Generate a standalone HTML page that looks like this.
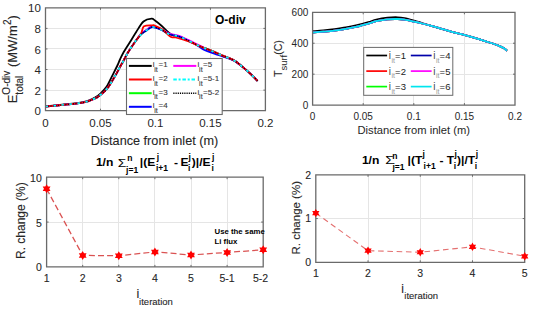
<!DOCTYPE html>
<html><head><meta charset="utf-8"><style>
html,body{margin:0;padding:0;background:#fff;width:533px;height:309px;overflow:hidden}
svg{display:block}
text{font-family:"Liberation Sans", sans-serif;white-space:pre}
text:not([font-weight="bold"]):not(.ns){stroke:#262626;stroke-width:0.1px}
</style></head><body>
<svg width="533" height="309" viewBox="0 0 533 309">
<rect x="0" y="0" width="533" height="309" fill="#fff"/>
<line x1="100.5" y1="7.8" x2="100.5" y2="110.7" stroke="#e5e5e5" stroke-width="1"/>
<line x1="155.5" y1="7.8" x2="155.5" y2="110.7" stroke="#e5e5e5" stroke-width="1"/>
<line x1="210.5" y1="7.8" x2="210.5" y2="110.7" stroke="#e5e5e5" stroke-width="1"/>
<line x1="45.5" y1="90.5" x2="265.4" y2="90.5" stroke="#e5e5e5" stroke-width="1"/>
<line x1="45.5" y1="69.5" x2="265.4" y2="69.5" stroke="#e5e5e5" stroke-width="1"/>
<line x1="45.5" y1="48.5" x2="265.4" y2="48.5" stroke="#e5e5e5" stroke-width="1"/>
<line x1="45.5" y1="28.5" x2="265.4" y2="28.5" stroke="#e5e5e5" stroke-width="1"/>
<path d="M45.50,106.40 C51.05,105.83 71.75,103.93 78.80,103.00 C85.85,102.07 85.10,101.70 87.80,100.80 C90.50,99.90 92.85,98.85 95.00,97.60 C97.15,96.35 98.82,95.05 100.70,93.30 C102.58,91.55 104.80,89.17 106.30,87.10 C107.80,85.03 108.57,83.07 109.70,80.90 C110.83,78.73 111.78,76.75 113.10,74.10 C114.42,71.45 116.45,67.43 117.60,65.00 C118.75,62.57 119.07,61.50 120.00,59.50 C120.93,57.50 121.58,55.83 123.20,53.00 C124.82,50.17 127.53,46.00 129.70,42.50 C131.87,39.00 133.90,35.50 136.20,32.00 C138.50,28.50 140.93,23.73 143.50,21.50 C146.07,19.27 149.68,18.75 151.60,18.60 C153.52,18.45 153.35,19.40 155.00,20.60 C156.65,21.80 159.13,23.75 161.50,25.80 C163.87,27.85 167.28,31.33 169.20,32.90 C171.12,34.47 171.48,34.65 173.00,35.20 C174.52,35.75 175.70,35.28 178.30,36.20 C180.90,37.12 185.37,39.20 188.60,40.70 C191.83,42.20 194.97,43.95 197.70,45.20 C200.43,46.45 202.57,47.20 205.00,48.20 C207.43,49.20 209.38,49.97 212.30,51.20 C215.22,52.43 218.87,54.07 222.50,55.60 C226.13,57.13 230.47,58.27 234.10,60.40 C237.73,62.53 241.38,65.98 244.30,68.40 C247.22,70.82 249.38,72.82 251.60,74.90 C253.82,76.98 256.60,79.90 257.60,80.90" fill="none" stroke="#000000" stroke-width="1.8" stroke-linejoin="round"  />
<path d="M45.50,106.50 C47.30,106.33 52.63,105.85 56.30,105.50 C59.97,105.15 63.75,104.78 67.50,104.40 C71.25,104.02 75.42,103.72 78.80,103.20 C82.18,102.68 85.18,102.07 87.80,101.30 C90.42,100.53 92.92,99.28 94.50,98.60 C96.08,97.92 95.70,98.33 97.30,97.20 C98.90,96.07 102.22,93.57 104.10,91.80 C105.98,90.03 107.28,88.37 108.60,86.60 C109.92,84.83 110.68,83.37 112.00,81.20 C113.32,79.03 115.00,76.30 116.50,73.60 C118.00,70.90 120.02,66.80 121.00,65.00 C121.98,63.20 121.22,64.93 122.40,62.80 C123.58,60.67 126.07,55.58 128.10,52.20 C130.13,48.82 132.45,45.47 134.60,42.50 C136.75,39.53 138.98,36.45 141.00,34.40 C143.02,32.35 144.80,31.45 146.70,30.20 C148.60,28.95 149.93,26.98 152.40,26.90 C154.87,26.82 158.70,28.48 161.50,29.70 C164.30,30.92 166.40,33.12 169.20,34.20 C172.00,35.28 175.07,35.12 178.30,36.20 C181.53,37.28 185.37,39.20 188.60,40.70 C191.83,42.20 194.97,43.95 197.70,45.20 C200.43,46.45 202.57,47.20 205.00,48.20 C207.43,49.20 209.38,49.97 212.30,51.20 C215.22,52.43 218.87,54.07 222.50,55.60 C226.13,57.13 230.47,58.27 234.10,60.40 C237.73,62.53 241.38,65.98 244.30,68.40 C247.22,70.82 249.38,72.82 251.60,74.90 C253.82,76.98 256.60,79.90 257.60,80.90" fill="none" stroke="#00ff00" stroke-width="1.8" stroke-linejoin="round"  />
<path d="M45.50,106.50 C47.30,106.33 52.63,105.85 56.30,105.50 C59.97,105.15 63.75,104.78 67.50,104.40 C71.25,104.02 75.42,103.72 78.80,103.20 C82.18,102.68 85.18,102.07 87.80,101.30 C90.42,100.53 92.92,99.28 94.50,98.60 C96.08,97.92 95.70,98.33 97.30,97.20 C98.90,96.07 102.22,93.57 104.10,91.80 C105.98,90.03 107.28,88.37 108.60,86.60 C109.92,84.83 110.68,83.37 112.00,81.20 C113.32,79.03 115.00,76.30 116.50,73.60 C118.00,70.90 120.02,66.80 121.00,65.00 C121.98,63.20 121.22,64.93 122.40,62.80 C123.58,60.67 126.07,55.58 128.10,52.20 C130.13,48.82 132.45,45.57 134.60,42.50 C136.75,39.43 138.98,35.95 141.00,33.80 C143.02,31.65 144.80,30.85 146.70,29.60 C148.60,28.35 149.93,26.38 152.40,26.30 C154.87,26.22 158.70,27.88 161.50,29.10 C164.30,30.32 166.40,32.52 169.20,33.60 C172.00,34.68 175.07,34.52 178.30,35.60 C181.53,36.68 185.37,38.60 188.60,40.10 C191.83,41.60 194.97,43.25 197.70,44.60 C200.43,45.95 202.57,47.10 205.00,48.20 C207.43,49.30 209.38,49.97 212.30,51.20 C215.22,52.43 218.87,54.07 222.50,55.60 C226.13,57.13 230.47,58.27 234.10,60.40 C237.73,62.53 241.38,65.98 244.30,68.40 C247.22,70.82 249.38,72.82 251.60,74.90 C253.82,76.98 256.60,79.90 257.60,80.90" fill="none" stroke="#ff00ff" stroke-width="1.8" stroke-linejoin="round"  />
<path d="M45.50,106.50 C47.30,106.33 52.63,105.85 56.30,105.50 C59.97,105.15 63.75,104.78 67.50,104.40 C71.25,104.02 75.42,103.72 78.80,103.20 C82.18,102.68 85.18,102.07 87.80,101.30 C90.42,100.53 92.92,99.28 94.50,98.60 C96.08,97.92 95.70,98.33 97.30,97.20 C98.90,96.07 102.22,93.57 104.10,91.80 C105.98,90.03 107.28,88.37 108.60,86.60 C109.92,84.83 110.68,83.37 112.00,81.20 C113.32,79.03 115.00,76.30 116.50,73.60 C118.00,70.90 120.02,66.80 121.00,65.00 C121.98,63.20 121.22,64.93 122.40,62.80 C123.58,60.67 126.07,55.58 128.10,52.20 C130.13,48.82 132.45,45.47 134.60,42.50 C136.75,39.53 138.98,36.42 141.00,34.40 C143.02,32.38 144.80,31.62 146.70,30.40 C148.60,29.18 149.93,27.18 152.40,27.10 C154.87,27.02 158.70,28.68 161.50,29.90 C164.30,31.12 166.40,33.32 169.20,34.40 C172.00,35.48 175.07,35.30 178.30,36.40 C181.53,37.50 185.37,39.47 188.60,41.00 C191.83,42.53 195.32,44.23 197.70,45.60 C200.08,46.97 200.97,48.15 202.90,49.20 C204.83,50.25 207.28,51.10 209.30,51.90 C211.32,52.70 212.80,53.25 215.00,54.00 C217.20,54.75 219.32,55.30 222.50,56.40 C225.68,57.50 230.47,58.60 234.10,60.60 C237.73,62.60 241.38,66.02 244.30,68.40 C247.22,70.78 249.38,72.82 251.60,74.90 C253.82,76.98 256.60,79.90 257.60,80.90" fill="none" stroke="#0000ff" stroke-width="1.8" stroke-linejoin="round"  />
<path d="M45.50,106.50 C47.30,106.33 52.63,105.85 56.30,105.50 C59.97,105.15 63.75,104.78 67.50,104.40 C71.25,104.02 75.42,103.72 78.80,103.20 C82.18,102.68 85.18,102.07 87.80,101.30 C90.42,100.53 92.92,99.28 94.50,98.60 C96.08,97.92 95.70,98.33 97.30,97.20 C98.90,96.07 102.22,93.57 104.10,91.80 C105.98,90.03 107.28,88.37 108.60,86.60 C109.92,84.83 110.68,83.37 112.00,81.20 C113.32,79.03 115.00,76.30 116.50,73.60 C118.00,70.90 120.02,66.80 121.00,65.00 C121.98,63.20 121.22,64.93 122.40,62.80 C123.58,60.67 126.07,55.58 128.10,52.20 C130.13,48.82 132.45,45.60 134.60,42.50 C136.75,39.40 139.43,36.30 141.00,33.60 C142.57,30.90 142.10,27.68 144.00,26.30 C145.90,24.92 150.57,25.38 152.40,25.30 C154.23,25.22 153.27,25.07 155.00,25.80 C156.73,26.53 160.22,27.87 162.80,29.70 C165.38,31.53 168.35,35.50 170.50,36.80 C172.65,38.10 172.68,36.75 175.70,37.50 C178.72,38.25 184.93,39.98 188.60,41.30 C192.27,42.62 194.97,44.25 197.70,45.40 C200.43,46.55 202.57,47.23 205.00,48.20 C207.43,49.17 209.38,49.97 212.30,51.20 C215.22,52.43 218.87,54.07 222.50,55.60 C226.13,57.13 230.47,58.27 234.10,60.40 C237.73,62.53 241.38,65.98 244.30,68.40 C247.22,70.82 249.38,72.82 251.60,74.90 C253.82,76.98 256.60,79.90 257.60,80.90" fill="none" stroke="#ff0000" stroke-width="1.8" stroke-linejoin="round"  />
<path d="M45.50,106.50 C47.30,106.33 52.63,105.85 56.30,105.50 C59.97,105.15 63.75,104.78 67.50,104.40 C71.25,104.02 75.42,103.72 78.80,103.20 C82.18,102.68 85.18,102.07 87.80,101.30 C90.42,100.53 92.92,99.28 94.50,98.60 C96.08,97.92 95.70,98.33 97.30,97.20 C98.90,96.07 102.22,93.57 104.10,91.80 C105.98,90.03 107.28,88.37 108.60,86.60 C109.92,84.83 110.68,83.37 112.00,81.20 C113.32,79.03 115.00,76.30 116.50,73.60 C118.00,70.90 120.02,66.80 121.00,65.00 C121.98,63.20 121.22,64.93 122.40,62.80 C123.58,60.67 126.07,55.58 128.10,52.20 C130.13,48.82 132.45,45.47 134.60,42.50 C136.75,39.53 138.98,36.45 141.00,34.40 C143.02,32.35 144.80,31.45 146.70,30.20 C148.60,28.95 149.93,26.98 152.40,26.90 C154.87,26.82 158.70,28.48 161.50,29.70 C164.30,30.92 166.40,33.12 169.20,34.20 C172.00,35.28 175.07,35.12 178.30,36.20 C181.53,37.28 185.37,39.20 188.60,40.70 C191.83,42.20 194.97,43.95 197.70,45.20 C200.43,46.45 202.57,47.20 205.00,48.20 C207.43,49.20 209.38,49.97 212.30,51.20 C215.22,52.43 218.87,54.07 222.50,55.60 C226.13,57.13 230.47,58.27 234.10,60.40 C237.73,62.53 241.38,65.98 244.30,68.40 C247.22,70.82 249.38,72.82 251.60,74.90 C253.82,76.98 256.60,79.90 257.60,80.90" fill="none" stroke="#000000" stroke-width="1.2" stroke-linejoin="round" stroke-dasharray="1 1.5" />
<path d="M45.50,106.50 C47.30,106.33 52.63,105.85 56.30,105.50 C59.97,105.15 63.75,104.78 67.50,104.40 C71.25,104.02 75.42,103.72 78.80,103.20 C82.18,102.68 85.18,102.07 87.80,101.30 C90.42,100.53 92.92,99.28 94.50,98.60 C96.08,97.92 95.70,98.33 97.30,97.20 C98.90,96.07 102.22,93.57 104.10,91.80 C105.98,90.03 107.28,88.37 108.60,86.60 C109.92,84.83 110.68,83.37 112.00,81.20 C113.32,79.03 115.00,76.30 116.50,73.60 C118.00,70.90 120.02,66.80 121.00,65.00 C121.98,63.20 121.22,64.93 122.40,62.80 C123.58,60.67 126.07,55.58 128.10,52.20 C130.13,48.82 132.45,45.47 134.60,42.50 C136.75,39.53 138.98,36.45 141.00,34.40 C143.02,32.35 144.80,31.45 146.70,30.20 C148.60,28.95 149.93,26.98 152.40,26.90 C154.87,26.82 158.70,28.48 161.50,29.70 C164.30,30.92 166.40,33.12 169.20,34.20 C172.00,35.28 175.07,35.12 178.30,36.20 C181.53,37.28 185.37,39.20 188.60,40.70 C191.83,42.20 194.97,43.95 197.70,45.20 C200.43,46.45 202.57,47.20 205.00,48.20 C207.43,49.20 209.38,49.97 212.30,51.20 C215.22,52.43 218.87,54.07 222.50,55.60 C226.13,57.13 230.47,58.27 234.10,60.40 C237.73,62.53 241.38,65.98 244.30,68.40 C247.22,70.82 249.38,72.82 251.60,74.90 C253.82,76.98 256.60,79.90 257.60,80.90" fill="none" stroke="#00ffff" stroke-width="1.7" stroke-linejoin="round" stroke-dasharray="2.5 5.5" />
<path d="M45.5,7.8 H265.4 V110.7 H45.5 Z" fill="none" stroke="#6a6a6a" stroke-width="1.3"/>
<line x1="100.475" y1="110.7" x2="100.475" y2="108.7" stroke="#6a6a6a" stroke-width="1"/>
<line x1="100.475" y1="7.8" x2="100.475" y2="9.8" stroke="#6a6a6a" stroke-width="1"/>
<line x1="155.45" y1="110.7" x2="155.45" y2="108.7" stroke="#6a6a6a" stroke-width="1"/>
<line x1="155.45" y1="7.8" x2="155.45" y2="9.8" stroke="#6a6a6a" stroke-width="1"/>
<line x1="210.42499999999998" y1="110.7" x2="210.42499999999998" y2="108.7" stroke="#6a6a6a" stroke-width="1"/>
<line x1="210.42499999999998" y1="7.8" x2="210.42499999999998" y2="9.8" stroke="#6a6a6a" stroke-width="1"/>
<line x1="45.5" y1="90.12" x2="47.5" y2="90.12" stroke="#6a6a6a" stroke-width="1"/>
<line x1="265.4" y1="90.12" x2="263.4" y2="90.12" stroke="#6a6a6a" stroke-width="1"/>
<line x1="45.5" y1="69.53999999999999" x2="47.5" y2="69.53999999999999" stroke="#6a6a6a" stroke-width="1"/>
<line x1="265.4" y1="69.53999999999999" x2="263.4" y2="69.53999999999999" stroke="#6a6a6a" stroke-width="1"/>
<line x1="45.5" y1="48.959999999999994" x2="47.5" y2="48.959999999999994" stroke="#6a6a6a" stroke-width="1"/>
<line x1="265.4" y1="48.959999999999994" x2="263.4" y2="48.959999999999994" stroke="#6a6a6a" stroke-width="1"/>
<line x1="45.5" y1="28.379999999999995" x2="47.5" y2="28.379999999999995" stroke="#6a6a6a" stroke-width="1"/>
<line x1="265.4" y1="28.379999999999995" x2="263.4" y2="28.379999999999995" stroke="#6a6a6a" stroke-width="1"/>
<text class="ns" x="40.8" y="115.3" font-size="11.5" text-anchor="end" font-weight="normal" fill="#262626" >0</text>
<text class="ns" x="40.8" y="94.72" font-size="11.5" text-anchor="end" font-weight="normal" fill="#262626" >2</text>
<text class="ns" x="40.8" y="74.13999999999999" font-size="11.5" text-anchor="end" font-weight="normal" fill="#262626" >4</text>
<text class="ns" x="40.8" y="53.559999999999995" font-size="11.5" text-anchor="end" font-weight="normal" fill="#262626" >6</text>
<text class="ns" x="40.8" y="32.98" font-size="11.5" text-anchor="end" font-weight="normal" fill="#262626" >8</text>
<text class="ns" x="40.8" y="12.399999999999997" font-size="11.5" text-anchor="end" font-weight="normal" fill="#262626" >10</text>
<text class="ns" x="45.5" y="127.4" font-size="11.5" text-anchor="middle" font-weight="normal" fill="#262626" >0</text>
<text class="ns" x="100.475" y="127.4" font-size="11.5" text-anchor="middle" font-weight="normal" fill="#262626" >0.05</text>
<text class="ns" x="155.45" y="127.4" font-size="11.5" text-anchor="middle" font-weight="normal" fill="#262626" >0.1</text>
<text class="ns" x="210.42499999999998" y="127.4" font-size="11.5" text-anchor="middle" font-weight="normal" fill="#262626" >0.15</text>
<text class="ns" x="265.4" y="127.4" font-size="11.5" text-anchor="middle" font-weight="normal" fill="#262626" >0.2</text>
<text x="154.5" y="144.5" font-size="12.7" text-anchor="middle" font-weight="normal" fill="#262626" textLength="127.5" lengthAdjust="spacingAndGlyphs">Distance from inlet (m)</text>
<text x="215" y="23.6" font-size="12" text-anchor="start" font-weight="bold" fill="#000" >O-div</text>
<g transform="translate(17.1,103.3) rotate(-90)">
<text x="0" y="0" font-size="13" fill="#262626">E</text>
<text x="8.67" y="-7.4" font-size="10" fill="#262626">O-div</text>
<text x="8.67" y="6.2" font-size="10" fill="#262626">total</text>
<text x="32.6" y="0" font-size="13" fill="#262626"> (MW/m</text>
<text x="78.2" y="-6.5" font-size="10" fill="#262626">2</text>
<text x="83.8" y="0" font-size="13" fill="#262626">)</text>
</g>
<rect x="126.5" y="58.5" width="95.69999999999999" height="56.0" fill="#fff" stroke="#6a6a6a" stroke-width="1.1"/>
<polyline points="128.9,65.9 151.7,65.9" fill="none" stroke="#000000" stroke-width="2" stroke-linejoin="round"  />
<text x="152.7" y="67.30000000000001" font-size="8" text-anchor="start" font-weight="normal" fill="#3a3a3a" >i</text>
<text x="154.3" y="72.10000000000001" font-size="7" text-anchor="start" font-weight="normal" fill="#3a3a3a" >it</text>
<text x="158.5" y="67.30000000000001" font-size="8" text-anchor="start" font-weight="normal" fill="#3a3a3a" >=1</text>
<polyline points="128.9,79.5 151.7,79.5" fill="none" stroke="#ff0000" stroke-width="2" stroke-linejoin="round"  />
<text x="152.7" y="80.9" font-size="8" text-anchor="start" font-weight="normal" fill="#3a3a3a" >i</text>
<text x="154.3" y="85.7" font-size="7" text-anchor="start" font-weight="normal" fill="#3a3a3a" >it</text>
<text x="158.5" y="80.9" font-size="8" text-anchor="start" font-weight="normal" fill="#3a3a3a" >=2</text>
<polyline points="128.9,93.2 151.7,93.2" fill="none" stroke="#00ff00" stroke-width="2" stroke-linejoin="round"  />
<text x="152.7" y="94.60000000000001" font-size="8" text-anchor="start" font-weight="normal" fill="#3a3a3a" >i</text>
<text x="154.3" y="99.4" font-size="7" text-anchor="start" font-weight="normal" fill="#3a3a3a" >it</text>
<text x="158.5" y="94.60000000000001" font-size="8" text-anchor="start" font-weight="normal" fill="#3a3a3a" >=3</text>
<polyline points="128.9,106.8 151.7,106.8" fill="none" stroke="#0000ff" stroke-width="2" stroke-linejoin="round"  />
<text x="152.7" y="108.2" font-size="8" text-anchor="start" font-weight="normal" fill="#3a3a3a" >i</text>
<text x="154.3" y="113.0" font-size="7" text-anchor="start" font-weight="normal" fill="#3a3a3a" >it</text>
<text x="158.5" y="108.2" font-size="8" text-anchor="start" font-weight="normal" fill="#3a3a3a" >=4</text>
<polyline points="173.3,65.9 196.3,65.9" fill="none" stroke="#ff00ff" stroke-width="2" stroke-linejoin="round"  />
<text x="197.5" y="67.30000000000001" font-size="8" text-anchor="start" font-weight="normal" fill="#3a3a3a" >i</text>
<text x="199.1" y="72.10000000000001" font-size="7" text-anchor="start" font-weight="normal" fill="#3a3a3a" >it</text>
<text x="203.0" y="67.30000000000001" font-size="8" text-anchor="start" font-weight="normal" fill="#3a3a3a" >=5</text>
<polyline points="173.3,79.5 196.3,79.5" fill="none" stroke="#00ffff" stroke-width="2" stroke-linejoin="round" stroke-dasharray="3.5 1.8 2 1.8" />
<text x="197.5" y="80.9" font-size="8" text-anchor="start" font-weight="normal" fill="#3a3a3a" >i</text>
<text x="199.1" y="85.7" font-size="7" text-anchor="start" font-weight="normal" fill="#3a3a3a" >it</text>
<text x="203.0" y="80.9" font-size="8" text-anchor="start" font-weight="normal" fill="#3a3a3a" >=5-1</text>
<polyline points="173.3,93.2 196.3,93.2" fill="none" stroke="#000000" stroke-width="1.6" stroke-linejoin="round" stroke-dasharray="1.2 1" />
<text x="197.5" y="94.60000000000001" font-size="8" text-anchor="start" font-weight="normal" fill="#3a3a3a" >i</text>
<text x="199.1" y="99.4" font-size="7" text-anchor="start" font-weight="normal" fill="#3a3a3a" >it</text>
<text x="203.0" y="94.60000000000001" font-size="8" text-anchor="start" font-weight="normal" fill="#3a3a3a" >=5-2</text>
<line x1="363.5" y1="12.3" x2="363.5" y2="105.1" stroke="#e5e5e5" stroke-width="1"/>
<line x1="413.5" y1="12.3" x2="413.5" y2="105.1" stroke="#e5e5e5" stroke-width="1"/>
<line x1="464.5" y1="12.3" x2="464.5" y2="105.1" stroke="#e5e5e5" stroke-width="1"/>
<line x1="312.6" y1="74.5" x2="515.0" y2="74.5" stroke="#e5e5e5" stroke-width="1"/>
<line x1="312.6" y1="43.5" x2="515.0" y2="43.5" stroke="#e5e5e5" stroke-width="1"/>
<path d="M312.90,31.20 C314.63,31.05 319.70,30.65 323.30,30.30 C326.90,29.95 330.75,29.57 334.50,29.10 C338.25,28.63 342.05,28.15 345.80,27.50 C349.55,26.85 353.25,26.08 357.00,25.20 C360.75,24.32 365.08,23.13 368.30,22.20 C371.52,21.27 373.10,20.35 376.30,19.60 C379.50,18.85 383.93,18.08 387.50,17.70 C391.07,17.32 394.88,17.23 397.70,17.30 C400.52,17.37 401.68,17.55 404.40,18.10 C407.12,18.65 411.07,19.78 414.00,20.60 C416.93,21.42 419.12,22.13 422.00,23.00 C424.88,23.87 427.88,24.78 431.30,25.80 C434.72,26.82 438.75,28.02 442.50,29.10 C446.25,30.18 450.05,31.28 453.80,32.30 C457.55,33.32 460.68,34.02 465.00,35.20 C469.32,36.38 475.63,38.18 479.70,39.40 C483.77,40.62 486.17,41.42 489.40,42.50 C492.63,43.58 496.67,44.93 499.10,45.90 C501.53,46.87 502.70,47.50 504.00,48.30 C505.30,49.10 506.42,50.30 506.90,50.70" fill="none" stroke="#000000" stroke-width="1.8" stroke-linejoin="round"  />
<path d="M312.90,32.50 C314.63,32.37 319.70,32.02 323.30,31.70 C326.90,31.38 330.75,31.07 334.50,30.60 C338.25,30.13 342.05,29.55 345.80,28.90 C349.55,28.25 353.25,27.58 357.00,26.70 C360.75,25.82 365.08,24.52 368.30,23.60 C371.52,22.68 373.10,21.92 376.30,21.20 C379.50,20.48 383.93,19.67 387.50,19.30 C391.07,18.93 394.88,18.95 397.70,19.00 C400.52,19.05 401.68,19.17 404.40,19.60 C407.12,20.03 411.07,20.95 414.00,21.60 C416.93,22.25 419.12,22.78 422.00,23.50 C424.88,24.22 427.88,24.97 431.30,25.90 C434.72,26.83 438.75,28.03 442.50,29.10 C446.25,30.17 450.05,31.28 453.80,32.30 C457.55,33.32 460.68,34.02 465.00,35.20 C469.32,36.38 475.63,38.18 479.70,39.40 C483.77,40.62 486.17,41.42 489.40,42.50 C492.63,43.58 496.67,44.93 499.10,45.90 C501.53,46.87 502.70,47.50 504.00,48.30 C505.30,49.10 506.42,50.30 506.90,50.70" fill="none" stroke="#ff0000" stroke-width="1.8" stroke-linejoin="round"  />
<path d="M312.90,32.50 C314.63,32.37 319.70,32.02 323.30,31.70 C326.90,31.38 330.75,31.07 334.50,30.60 C338.25,30.13 342.05,29.55 345.80,28.90 C349.55,28.25 353.25,27.58 357.00,26.70 C360.75,25.82 365.08,24.52 368.30,23.60 C371.52,22.68 373.10,21.92 376.30,21.20 C379.50,20.48 383.93,19.67 387.50,19.30 C391.07,18.93 394.88,18.95 397.70,19.00 C400.52,19.05 401.68,19.17 404.40,19.60 C407.12,20.03 411.07,20.95 414.00,21.60 C416.93,22.25 419.12,22.78 422.00,23.50 C424.88,24.22 427.88,24.97 431.30,25.90 C434.72,26.83 438.75,28.03 442.50,29.10 C446.25,30.17 450.05,31.28 453.80,32.30 C457.55,33.32 460.68,34.02 465.00,35.20 C469.32,36.38 475.63,38.18 479.70,39.40 C483.77,40.62 486.17,41.42 489.40,42.50 C492.63,43.58 496.67,44.93 499.10,45.90 C501.53,46.87 502.70,47.50 504.00,48.30 C505.30,49.10 506.42,50.30 506.90,50.70" fill="none" stroke="#00ff00" stroke-width="1.8" stroke-linejoin="round"  />
<path d="M312.90,32.50 C314.63,32.37 319.70,32.02 323.30,31.70 C326.90,31.38 330.75,31.07 334.50,30.60 C338.25,30.13 342.05,29.55 345.80,28.90 C349.55,28.25 353.25,27.58 357.00,26.70 C360.75,25.82 365.08,24.52 368.30,23.60 C371.52,22.68 373.10,21.92 376.30,21.20 C379.50,20.48 383.93,19.67 387.50,19.30 C391.07,18.93 394.88,18.95 397.70,19.00 C400.52,19.05 401.68,19.17 404.40,19.60 C407.12,20.03 411.07,20.95 414.00,21.60 C416.93,22.25 419.12,22.78 422.00,23.50 C424.88,24.22 427.88,24.97 431.30,25.90 C434.72,26.83 438.75,28.03 442.50,29.10 C446.25,30.17 450.05,31.28 453.80,32.30 C457.55,33.32 460.68,34.02 465.00,35.20 C469.32,36.38 475.63,38.18 479.70,39.40 C483.77,40.62 486.17,41.42 489.40,42.50 C492.63,43.58 496.67,44.93 499.10,45.90 C501.53,46.87 502.70,47.50 504.00,48.30 C505.30,49.10 506.42,50.30 506.90,50.70" fill="none" stroke="#0000aa" stroke-width="1.8" stroke-linejoin="round"  />
<path d="M312.90,32.50 C314.63,32.37 319.70,32.02 323.30,31.70 C326.90,31.38 330.75,31.07 334.50,30.60 C338.25,30.13 342.05,29.55 345.80,28.90 C349.55,28.25 353.25,27.58 357.00,26.70 C360.75,25.82 365.08,24.52 368.30,23.60 C371.52,22.68 373.10,21.92 376.30,21.20 C379.50,20.48 383.93,19.67 387.50,19.30 C391.07,18.93 394.88,18.95 397.70,19.00 C400.52,19.05 401.68,19.17 404.40,19.60 C407.12,20.03 411.07,20.95 414.00,21.60 C416.93,22.25 419.12,22.78 422.00,23.50 C424.88,24.22 427.88,24.97 431.30,25.90 C434.72,26.83 438.75,28.03 442.50,29.10 C446.25,30.17 450.05,31.28 453.80,32.30 C457.55,33.32 460.68,34.02 465.00,35.20 C469.32,36.38 475.63,38.18 479.70,39.40 C483.77,40.62 486.17,41.42 489.40,42.50 C492.63,43.58 496.67,44.93 499.10,45.90 C501.53,46.87 502.70,47.50 504.00,48.30 C505.30,49.10 506.42,50.30 506.90,50.70" fill="none" stroke="#ff00ff" stroke-width="1.8" stroke-linejoin="round"  />
<path d="M312.90,32.50 C314.63,32.37 319.70,32.02 323.30,31.70 C326.90,31.38 330.75,31.07 334.50,30.60 C338.25,30.13 342.05,29.55 345.80,28.90 C349.55,28.25 353.25,27.58 357.00,26.70 C360.75,25.82 365.08,24.52 368.30,23.60 C371.52,22.68 373.10,21.92 376.30,21.20 C379.50,20.48 383.93,19.67 387.50,19.30 C391.07,18.93 394.88,18.95 397.70,19.00 C400.52,19.05 401.68,19.17 404.40,19.60 C407.12,20.03 411.07,20.95 414.00,21.60 C416.93,22.25 419.12,22.78 422.00,23.50 C424.88,24.22 427.88,24.97 431.30,25.90 C434.72,26.83 438.75,28.03 442.50,29.10 C446.25,30.17 450.05,31.28 453.80,32.30 C457.55,33.32 460.68,34.02 465.00,35.20 C469.32,36.38 475.63,38.18 479.70,39.40 C483.77,40.62 486.17,41.42 489.40,42.50 C492.63,43.58 496.67,44.93 499.10,45.90 C501.53,46.87 502.70,47.50 504.00,48.30 C505.30,49.10 506.42,50.30 506.90,50.70" fill="none" stroke="#00e5ee" stroke-width="1.8" stroke-linejoin="round"  />
<path d="M312.6,12.3 H515.0 V105.1 H312.6 Z" fill="none" stroke="#6a6a6a" stroke-width="1.3"/>
<line x1="363.20000000000005" y1="105.1" x2="363.20000000000005" y2="103.1" stroke="#6a6a6a" stroke-width="1"/>
<line x1="363.20000000000005" y1="12.3" x2="363.20000000000005" y2="14.3" stroke="#6a6a6a" stroke-width="1"/>
<line x1="413.8" y1="105.1" x2="413.8" y2="103.1" stroke="#6a6a6a" stroke-width="1"/>
<line x1="413.8" y1="12.3" x2="413.8" y2="14.3" stroke="#6a6a6a" stroke-width="1"/>
<line x1="464.4" y1="105.1" x2="464.4" y2="103.1" stroke="#6a6a6a" stroke-width="1"/>
<line x1="464.4" y1="12.3" x2="464.4" y2="14.3" stroke="#6a6a6a" stroke-width="1"/>
<line x1="312.6" y1="74.16666666666666" x2="314.6" y2="74.16666666666666" stroke="#6a6a6a" stroke-width="1"/>
<line x1="515.0" y1="74.16666666666666" x2="513.0" y2="74.16666666666666" stroke="#6a6a6a" stroke-width="1"/>
<line x1="312.6" y1="43.23333333333333" x2="314.6" y2="43.23333333333333" stroke="#6a6a6a" stroke-width="1"/>
<line x1="515.0" y1="43.23333333333333" x2="513.0" y2="43.23333333333333" stroke="#6a6a6a" stroke-width="1"/>
<text class="ns" x="308.3" y="108.6" font-size="10" text-anchor="end" font-weight="normal" fill="#262626" >0</text>
<text class="ns" x="308.3" y="77.66666666666666" font-size="10" text-anchor="end" font-weight="normal" fill="#262626" >200</text>
<text class="ns" x="308.3" y="46.73333333333333" font-size="10" text-anchor="end" font-weight="normal" fill="#262626" >400</text>
<text class="ns" x="308.3" y="15.799999999999997" font-size="10" text-anchor="end" font-weight="normal" fill="#262626" >600</text>
<text class="ns" x="312.6" y="119.5" font-size="10" text-anchor="middle" font-weight="normal" fill="#262626" >0</text>
<text class="ns" x="363.20000000000005" y="119.5" font-size="10" text-anchor="middle" font-weight="normal" fill="#262626" >0.05</text>
<text class="ns" x="413.8" y="119.5" font-size="10" text-anchor="middle" font-weight="normal" fill="#262626" >0.1</text>
<text class="ns" x="464.4" y="119.5" font-size="10" text-anchor="middle" font-weight="normal" fill="#262626" >0.15</text>
<text class="ns" x="515.0" y="119.5" font-size="10" text-anchor="middle" font-weight="normal" fill="#262626" >0.2</text>
<text class="ns" x="413.8" y="133.5" font-size="10.5" text-anchor="middle" font-weight="normal" fill="#262626" textLength="112.5" lengthAdjust="spacingAndGlyphs">Distance from inlet (m)</text>
<g transform="translate(281.6,77) rotate(-90)">
<text x="0" y="0" font-size="10.5" fill="#262626">T</text>
<text class="ns" x="6.41" y="5" font-size="9.5" fill="#262626">surf</text>
<text x="22.2" y="0" font-size="10.5" fill="#262626">(C)</text>
</g>
<rect x="363.7" y="47.4" width="89.10000000000002" height="47.9" fill="#fff" stroke="#6a6a6a" stroke-width="1"/>
<polyline points="366.3,55.5 387.1,55.5" fill="none" stroke="#000000" stroke-width="1.7" stroke-linejoin="round"  />
<text class="ns" x="388.8" y="59.0" font-size="10" text-anchor="start" font-weight="normal" fill="#444" >i</text>
<text class="ns" x="391.40000000000003" y="62.5" font-size="7" text-anchor="start" font-weight="normal" fill="#999" >it</text>
<text class="ns" x="395.1" y="59.0" font-size="9.5" text-anchor="start" font-weight="normal" fill="#222" >=1</text>
<polyline points="366.3,71.1 387.1,71.1" fill="none" stroke="#ff0000" stroke-width="1.7" stroke-linejoin="round"  />
<text class="ns" x="388.8" y="74.6" font-size="10" text-anchor="start" font-weight="normal" fill="#444" >i</text>
<text class="ns" x="391.40000000000003" y="78.1" font-size="7" text-anchor="start" font-weight="normal" fill="#999" >it</text>
<text class="ns" x="395.1" y="74.6" font-size="9.5" text-anchor="start" font-weight="normal" fill="#222" >=2</text>
<polyline points="366.3,86.6 387.1,86.6" fill="none" stroke="#00ff00" stroke-width="1.7" stroke-linejoin="round"  />
<text class="ns" x="388.8" y="90.1" font-size="10" text-anchor="start" font-weight="normal" fill="#444" >i</text>
<text class="ns" x="391.40000000000003" y="93.6" font-size="7" text-anchor="start" font-weight="normal" fill="#999" >it</text>
<text class="ns" x="395.1" y="90.1" font-size="9.5" text-anchor="start" font-weight="normal" fill="#222" >=3</text>
<polyline points="410.8,55.5 431.6,55.5" fill="none" stroke="#0000aa" stroke-width="1.7" stroke-linejoin="round"  />
<text class="ns" x="433.3" y="59.0" font-size="10" text-anchor="start" font-weight="normal" fill="#444" >i</text>
<text class="ns" x="435.90000000000003" y="62.5" font-size="7" text-anchor="start" font-weight="normal" fill="#999" >it</text>
<text class="ns" x="439.6" y="59.0" font-size="9.5" text-anchor="start" font-weight="normal" fill="#222" >=4</text>
<polyline points="410.8,71.1 431.6,71.1" fill="none" stroke="#ff00ff" stroke-width="1.7" stroke-linejoin="round"  />
<text class="ns" x="433.3" y="74.6" font-size="10" text-anchor="start" font-weight="normal" fill="#444" >i</text>
<text class="ns" x="435.90000000000003" y="78.1" font-size="7" text-anchor="start" font-weight="normal" fill="#999" >it</text>
<text class="ns" x="439.6" y="74.6" font-size="9.5" text-anchor="start" font-weight="normal" fill="#222" >=5</text>
<polyline points="410.8,86.6 431.6,86.6" fill="none" stroke="#00e5ee" stroke-width="1.7" stroke-linejoin="round"  />
<text class="ns" x="433.3" y="90.1" font-size="10" text-anchor="start" font-weight="normal" fill="#444" >i</text>
<text class="ns" x="435.90000000000003" y="93.6" font-size="7" text-anchor="start" font-weight="normal" fill="#999" >it</text>
<text class="ns" x="439.6" y="90.1" font-size="9.5" text-anchor="start" font-weight="normal" fill="#222" >=6</text>
<line x1="82.5" y1="177.2" x2="82.5" y2="266.9" stroke="#e5e5e5" stroke-width="1"/>
<line x1="118.5" y1="177.2" x2="118.5" y2="266.9" stroke="#e5e5e5" stroke-width="1"/>
<line x1="154.5" y1="177.2" x2="154.5" y2="266.9" stroke="#e5e5e5" stroke-width="1"/>
<line x1="191.5" y1="177.2" x2="191.5" y2="266.9" stroke="#e5e5e5" stroke-width="1"/>
<line x1="227.5" y1="177.2" x2="227.5" y2="266.9" stroke="#e5e5e5" stroke-width="1"/>
<line x1="46.6" y1="222.5" x2="263.2" y2="222.5" stroke="#e5e5e5" stroke-width="1"/>
<polyline points="46.6,188.861 82.7,255.4184 118.80000000000001,255.68749999999997 154.9,251.9201 191.0,254.96989999999997 227.1,252.45829999999998 263.2,249.76729999999998" fill="none" stroke="#da5252" stroke-width="1.25" stroke-linejoin="round" stroke-dasharray="6 3.1" />
<path d="M46.6,177.2 H263.2 V266.9 H46.6 Z" fill="none" stroke="#6a6a6a" stroke-width="1.3"/>
<line x1="82.7" y1="266.9" x2="82.7" y2="264.9" stroke="#6a6a6a" stroke-width="1"/>
<line x1="82.7" y1="177.2" x2="82.7" y2="179.2" stroke="#6a6a6a" stroke-width="1"/>
<line x1="118.80000000000001" y1="266.9" x2="118.80000000000001" y2="264.9" stroke="#6a6a6a" stroke-width="1"/>
<line x1="118.80000000000001" y1="177.2" x2="118.80000000000001" y2="179.2" stroke="#6a6a6a" stroke-width="1"/>
<line x1="154.9" y1="266.9" x2="154.9" y2="264.9" stroke="#6a6a6a" stroke-width="1"/>
<line x1="154.9" y1="177.2" x2="154.9" y2="179.2" stroke="#6a6a6a" stroke-width="1"/>
<line x1="191.0" y1="266.9" x2="191.0" y2="264.9" stroke="#6a6a6a" stroke-width="1"/>
<line x1="191.0" y1="177.2" x2="191.0" y2="179.2" stroke="#6a6a6a" stroke-width="1"/>
<line x1="227.1" y1="266.9" x2="227.1" y2="264.9" stroke="#6a6a6a" stroke-width="1"/>
<line x1="227.1" y1="177.2" x2="227.1" y2="179.2" stroke="#6a6a6a" stroke-width="1"/>
<line x1="46.6" y1="222.04999999999998" x2="48.6" y2="222.04999999999998" stroke="#6a6a6a" stroke-width="1"/>
<line x1="263.2" y1="222.04999999999998" x2="261.2" y2="222.04999999999998" stroke="#6a6a6a" stroke-width="1"/>
<polygon points="46.60,184.36 45.30,186.60 42.70,186.61 43.99,188.86 42.70,191.11 45.30,191.12 46.60,193.36 47.91,191.12 50.50,191.11 49.21,188.86 50.50,186.61 47.91,186.60" fill="#ff0000"/>
<polygon points="82.70,250.92 81.40,253.16 78.80,253.17 80.09,255.42 78.80,257.67 81.40,257.68 82.70,259.92 84.00,257.68 86.60,257.67 85.31,255.42 86.60,253.17 84.01,253.16" fill="#ff0000"/>
<polygon points="118.80,251.19 117.50,253.43 114.90,253.44 116.19,255.69 114.90,257.94 117.50,257.95 118.80,260.19 120.11,257.95 122.70,257.94 121.41,255.69 122.70,253.44 120.11,253.43" fill="#ff0000"/>
<polygon points="154.90,247.42 153.59,249.66 151.00,249.67 152.29,251.92 151.00,254.17 153.59,254.18 154.90,256.42 156.21,254.18 158.80,254.17 157.51,251.92 158.80,249.67 156.21,249.66" fill="#ff0000"/>
<polygon points="191.00,250.47 189.69,252.71 187.10,252.72 188.39,254.97 187.10,257.22 189.69,257.23 191.00,259.47 192.31,257.23 194.90,257.22 193.61,254.97 194.90,252.72 192.31,252.71" fill="#ff0000"/>
<polygon points="227.10,247.96 225.79,250.20 223.20,250.21 224.49,252.46 223.20,254.71 225.79,254.72 227.10,256.96 228.41,254.72 231.00,254.71 229.71,252.46 231.00,250.21 228.41,250.20" fill="#ff0000"/>
<polygon points="263.20,245.27 261.89,247.51 259.30,247.52 260.59,249.77 259.30,252.02 261.89,252.03 263.20,254.27 264.50,252.03 267.10,252.02 265.81,249.77 267.10,247.52 264.50,247.51" fill="#ff0000"/>
<text x="41.8" y="271.4" font-size="10.5" text-anchor="end" font-weight="normal" fill="#262626" >0</text>
<text x="41.8" y="226.54999999999998" font-size="10.5" text-anchor="end" font-weight="normal" fill="#262626" >5</text>
<text x="41.8" y="181.7" font-size="10.5" text-anchor="end" font-weight="normal" fill="#262626" >10</text>
<text x="46.6" y="282" font-size="10.5" text-anchor="middle" font-weight="normal" fill="#262626" >1</text>
<text x="82.7" y="282" font-size="10.5" text-anchor="middle" font-weight="normal" fill="#262626" >2</text>
<text x="118.80000000000001" y="282" font-size="10.5" text-anchor="middle" font-weight="normal" fill="#262626" >3</text>
<text x="154.9" y="282" font-size="10.5" text-anchor="middle" font-weight="normal" fill="#262626" >4</text>
<text x="191.0" y="282" font-size="10.5" text-anchor="middle" font-weight="normal" fill="#262626" >5</text>
<text x="227.1" y="282" font-size="10.5" text-anchor="middle" font-weight="normal" fill="#262626" >5-1</text>
<text x="260.6" y="282" font-size="10.5" text-anchor="middle" font-weight="normal" fill="#262626" >5-2</text>
<text x="214.5" y="233.9" font-size="7.8" text-anchor="start" font-weight="bold" fill="#000" >Use the same</text>
<text x="214.5" y="244.3" font-size="7.8" text-anchor="start" font-weight="bold" fill="#000" >Li flux</text>
<g transform="translate(25.2,259) rotate(-90)">
<text x="0" y="0" font-size="12" fill="#262626">R. change (%)</text>
</g>
<text x="136.4" y="298.4" font-size="12.5" text-anchor="start" font-weight="normal" fill="#262626" >i</text>
<text x="139.1" y="304.8" font-size="9.5" text-anchor="start" font-weight="normal" fill="#262626" >iteration</text>
<text transform="translate(95.9,166.2) scale(1.05,1)" font-size="11.5" font-weight="bold" fill="#000">1/n</text>
<text class="ns" transform="translate(117.8,167.0) scale(1.2,1)" font-size="11.5" fill="#000">Σ</text>
<text transform="translate(127.15,161.0) scale(1.0,1)" font-size="8.5" font-weight="bold" fill="#000">n</text>
<text transform="translate(126.1,173.0) scale(1.0,1)" font-size="8.5" font-weight="bold" fill="#000">j=1</text>
<text transform="translate(139.85,166.2) scale(1.05,1)" font-size="11.5" font-weight="bold" fill="#000">|(E</text>
<text transform="translate(156.8,160.2) scale(1.0,1)" font-size="8.5" font-weight="bold" fill="#000">j</text>
<text transform="translate(155.95,171.0) scale(1.0,1)" font-size="8.5" font-weight="bold" fill="#000">i+1</text>
<text transform="translate(173.9,166.2) scale(1.05,1)" font-size="11.5" font-weight="bold" fill="#000">-</text>
<text transform="translate(180.4,166.2) scale(1.05,1)" font-size="11.5" font-weight="bold" fill="#000">E</text>
<text transform="translate(188.6,160.2) scale(1.0,1)" font-size="8.5" font-weight="bold" fill="#000">j</text>
<text transform="translate(187.95,171.0) scale(1.0,1)" font-size="8.5" font-weight="bold" fill="#000">i</text>
<text transform="translate(191.8,166.2) scale(1.05,1)" font-size="11.5" font-weight="bold" fill="#000">)|/E</text>
<text transform="translate(212.1,160.2) scale(1.0,1)" font-size="8.5" font-weight="bold" fill="#000">j</text>
<text transform="translate(211.45,171.0) scale(1.0,1)" font-size="8.5" font-weight="bold" fill="#000">i</text>
<line x1="368.5" y1="174.8" x2="368.5" y2="262.3" stroke="#e5e5e5" stroke-width="1"/>
<line x1="420.5" y1="174.8" x2="420.5" y2="262.3" stroke="#e5e5e5" stroke-width="1"/>
<line x1="472.5" y1="174.8" x2="472.5" y2="262.3" stroke="#e5e5e5" stroke-width="1"/>
<line x1="315.8" y1="218.5" x2="524.7" y2="218.5" stroke="#e5e5e5" stroke-width="1"/>
<polyline points="315.8,213.08125 368.02500000000003,250.70625 420.25,252.2375 472.475,246.8125 524.7,256.30625000000003" fill="none" stroke="#e47070" stroke-width="1.1" stroke-linejoin="round" stroke-dasharray="5.6 3.7" />
<path d="M315.8,174.8 H524.7 V262.3 H315.8 Z" fill="none" stroke="#6a6a6a" stroke-width="1.3"/>
<line x1="368.02500000000003" y1="262.3" x2="368.02500000000003" y2="260.3" stroke="#6a6a6a" stroke-width="1"/>
<line x1="368.02500000000003" y1="174.8" x2="368.02500000000003" y2="176.8" stroke="#6a6a6a" stroke-width="1"/>
<line x1="420.25" y1="262.3" x2="420.25" y2="260.3" stroke="#6a6a6a" stroke-width="1"/>
<line x1="420.25" y1="174.8" x2="420.25" y2="176.8" stroke="#6a6a6a" stroke-width="1"/>
<line x1="472.475" y1="262.3" x2="472.475" y2="260.3" stroke="#6a6a6a" stroke-width="1"/>
<line x1="472.475" y1="174.8" x2="472.475" y2="176.8" stroke="#6a6a6a" stroke-width="1"/>
<line x1="315.8" y1="218.55" x2="317.8" y2="218.55" stroke="#6a6a6a" stroke-width="1"/>
<line x1="524.7" y1="218.55" x2="522.7" y2="218.55" stroke="#6a6a6a" stroke-width="1"/>
<polygon points="315.80,208.88 314.58,210.97 312.16,210.98 313.36,213.08 312.16,215.18 314.58,215.19 315.80,217.28 317.02,215.19 319.44,215.18 318.24,213.08 319.44,210.98 317.02,210.97" fill="#ff0000"/>
<polygon points="368.03,246.51 366.81,248.60 364.39,248.61 365.59,250.71 364.39,252.81 366.81,252.82 368.03,254.91 369.24,252.82 371.66,252.81 370.46,250.71 371.66,248.61 369.24,248.60" fill="#ff0000"/>
<polygon points="420.25,248.04 419.03,250.13 416.61,250.14 417.81,252.24 416.61,254.34 419.03,254.35 420.25,256.44 421.47,254.35 423.89,254.34 422.69,252.24 423.89,250.14 421.47,250.13" fill="#ff0000"/>
<polygon points="472.48,242.61 471.26,244.70 468.84,244.71 470.04,246.81 468.84,248.91 471.26,248.92 472.48,251.01 473.69,248.92 476.11,248.91 474.91,246.81 476.11,244.71 473.69,244.70" fill="#ff0000"/>
<polygon points="524.70,252.11 523.48,254.20 521.06,254.21 522.26,256.31 521.06,258.41 523.48,258.42 524.70,260.51 525.92,258.42 528.34,258.41 527.14,256.31 528.34,254.21 525.92,254.20" fill="#ff0000"/>
<text x="311.2" y="266.1" font-size="10.5" text-anchor="end" font-weight="normal" fill="#262626" >0</text>
<text x="311.2" y="222.35000000000002" font-size="10.5" text-anchor="end" font-weight="normal" fill="#262626" >1</text>
<text x="311.2" y="178.60000000000002" font-size="10.5" text-anchor="end" font-weight="normal" fill="#262626" >2</text>
<text x="315.8" y="276.6" font-size="10.5" text-anchor="middle" font-weight="normal" fill="#262626" >1</text>
<text x="368.02500000000003" y="276.6" font-size="10.5" text-anchor="middle" font-weight="normal" fill="#262626" >2</text>
<text x="420.25" y="276.6" font-size="10.5" text-anchor="middle" font-weight="normal" fill="#262626" >3</text>
<text x="472.475" y="276.6" font-size="10.5" text-anchor="middle" font-weight="normal" fill="#262626" >4</text>
<text x="524.7" y="276.6" font-size="10.5" text-anchor="middle" font-weight="normal" fill="#262626" >5</text>
<g transform="translate(299.5,254.5) rotate(-90)">
<text x="0" y="0" font-size="11.5" fill="#262626">R. change (%)</text>
</g>
<text x="401.3" y="292.6" font-size="12" text-anchor="start" font-weight="normal" fill="#262626" >i</text>
<text x="404.3" y="298.6" font-size="9.5" text-anchor="start" font-weight="normal" fill="#262626" >iteration</text>
<text transform="translate(361.9,163.5) scale(1.05,1)" font-size="11.5" font-weight="bold" fill="#000">1/n</text>
<text class="ns" transform="translate(385.2,164.3) scale(1.2,1)" font-size="11.5" fill="#000">Σ</text>
<text transform="translate(392.15,159.0) scale(1.0,1)" font-size="8.5" font-weight="bold" fill="#000">n</text>
<text transform="translate(392.4,169.7) scale(1.0,1)" font-size="8.5" font-weight="bold" fill="#000">j=1</text>
<text transform="translate(407.5,163.5) scale(1.05,1)" font-size="11.5" font-weight="bold" fill="#000">|(T</text>
<text transform="translate(422.6,157.3) scale(1.0,1)" font-size="8.5" font-weight="bold" fill="#000">j</text>
<text transform="translate(423.55,169.3) scale(1.0,1)" font-size="8.5" font-weight="bold" fill="#000">i+1</text>
<text transform="translate(439.4,163.5) scale(1.05,1)" font-size="11.5" font-weight="bold" fill="#000">-</text>
<text transform="translate(446.7,163.5) scale(1.05,1)" font-size="11.5" font-weight="bold" fill="#000">T</text>
<text transform="translate(454.6,157.3) scale(1.0,1)" font-size="8.5" font-weight="bold" fill="#000">j</text>
<text transform="translate(453.75,169.3) scale(1.0,1)" font-size="8.5" font-weight="bold" fill="#000">i</text>
<text transform="translate(457.0,163.5) scale(1.05,1)" font-size="11.5" font-weight="bold" fill="#000">)|/T</text>
<text transform="translate(475.7,157.3) scale(1.0,1)" font-size="8.5" font-weight="bold" fill="#000">j</text>
<text transform="translate(474.85,169.3) scale(1.0,1)" font-size="8.5" font-weight="bold" fill="#000">i</text>
</svg>
</body></html>
